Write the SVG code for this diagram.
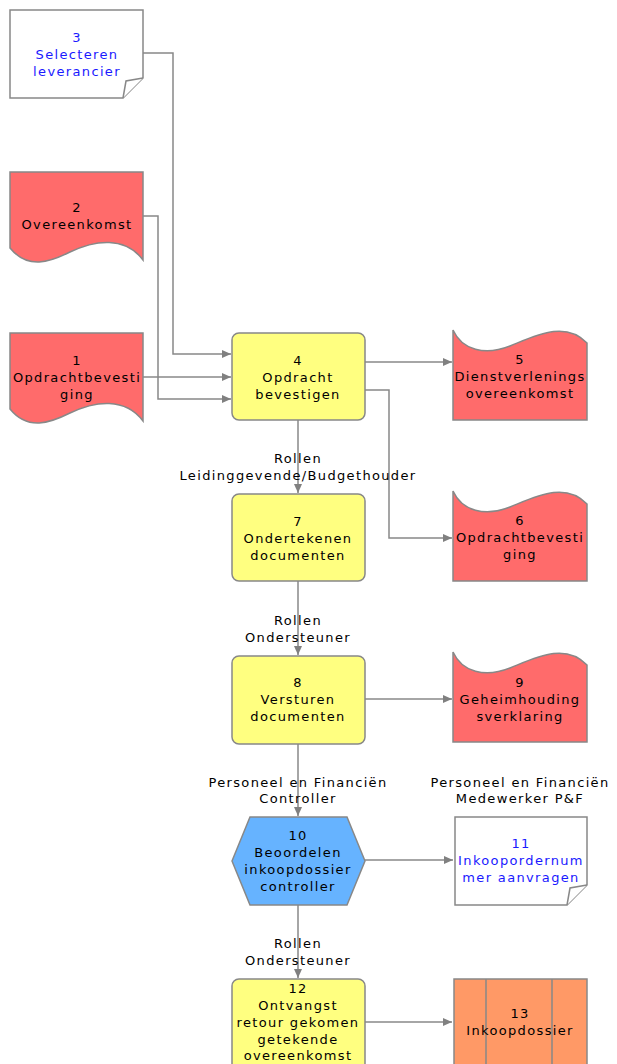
<svg xmlns="http://www.w3.org/2000/svg" width="617" height="1064" viewBox="0 0 617 1064">
<defs>
<style>
text{font-family:"DejaVu Sans","Liberation Sans",sans-serif;font-size:13px;letter-spacing:1.35px;text-anchor:middle;fill:#000}
.blue{fill:#1a1aff}
.shape{stroke:#888;stroke-width:1.5}
.red{fill:#ff6b6b}
.yel{fill:#ffff80}
.wht{fill:#fff}
.hex{fill:#66b3ff}
.org{fill:#ff9966}
.con{fill:none;stroke:#888;stroke-width:1.5}
</style>
<marker id="arr" markerUnits="userSpaceOnUse" markerWidth="10" markerHeight="10" refX="9" refY="5" orient="auto">
<path d="M0,1 L9,5 L0,9 Z" fill="#808080"/>
</marker>
</defs>
<rect width="617" height="1064" fill="#fff"/>

<g id="connectors">
<path class="con" d="M143,53 H173 V354 H231" marker-end="url(#arr)"/>
<path class="con" d="M143,216 H158 V399 H231" marker-end="url(#arr)"/>
<path class="con" d="M143,377 H231" marker-end="url(#arr)"/>
<path class="con" d="M365,362 H452" marker-end="url(#arr)"/>
<path class="con" d="M365,390 H389 V538 H452" marker-end="url(#arr)"/>
<path class="con" d="M298,420 V493" marker-end="url(#arr)"/>
<path class="con" d="M298,581 V655" marker-end="url(#arr)"/>
<path class="con" d="M365,699 H452" marker-end="url(#arr)"/>
<path class="con" d="M298,744 V816" marker-end="url(#arr)"/>
<path class="con" d="M365,860 H453" marker-end="url(#arr)"/>
<path class="con" d="M298,905 V978" marker-end="url(#arr)"/>
<path class="con" d="M365,1022 H452" marker-end="url(#arr)"/>
<text x="298" y="463">Rollen</text>
<text x="298" y="480">Leidinggevende/Budgethouder</text>
<text x="298" y="625">Rollen</text>
<text x="298" y="642">Ondersteuner</text>
<text x="298" y="787">Personeel en Financiën</text>
<text x="298" y="803">Controller</text>
<text x="298" y="948">Rollen</text>
<text x="298" y="965">Ondersteuner</text>
</g>

<g id="node3">
<path class="shape wht" d="M10,10 H143 V78 L123,98 H10 Z"/>
<path class="shape wht" d="M143,78 L126,81 L123,98"/>
<text class="blue" x="77" y="42">3</text>
<text class="blue" x="77" y="59">Selecteren</text>
<text class="blue" x="77" y="76">leverancier</text>
</g>

<g id="node2">
<path class="shape red" d="M10,172 H143 V260 C125,236 95,240 70,252 C50,262 28,270 10,248 Z"/>
<text x="77" y="212">2</text>
<text x="77" y="229">Overeenkomst</text>
</g>

<g id="node1">
<path class="shape red" d="M10,333 H143 V421 C125,397 95,401 70,413 C50,423 28,431 10,409 Z"/>
<text x="77" y="365">1</text>
<text x="77" y="382">Opdrachtbevesti</text>
<text x="77" y="399">ging</text>
</g>

<g id="node4">
<rect class="shape yel" x="232" y="333" width="133" height="87" rx="7"/>
<text x="298" y="365">4</text>
<text x="298" y="382">Opdracht</text>
<text x="298" y="399">bevestigen</text>
</g>

<g id="node5">
<path class="shape red" d="M453,420 V330 C462,350 485,356 510,346 C535,336 565,320 587,343 V420 Z"/>
<text x="520" y="364">5</text>
<text x="520" y="381">Dienstverlenings</text>
<text x="520" y="398">overeenkomst</text>
</g>

<g id="node6">
<path class="shape red" d="M453,581 V491 C462,511 485,517 510,507 C535,497 565,481 587,504 V581 Z"/>
<text x="520" y="525">6</text>
<text x="520" y="542">Opdrachtbevesti</text>
<text x="520" y="559">ging</text>
</g>

<g id="node7">
<rect class="shape yel" x="232" y="494" width="133" height="87" rx="7"/>
<text x="298" y="526">7</text>
<text x="298" y="543">Ondertekenen</text>
<text x="298" y="560">documenten</text>
</g>

<g id="node8">
<rect class="shape yel" x="232" y="656" width="133" height="88" rx="7"/>
<text x="298" y="687">8</text>
<text x="298" y="704">Versturen</text>
<text x="298" y="721">documenten</text>
</g>

<g id="node9">
<path class="shape red" d="M453,742 V652 C462,672 485,678 510,668 C535,658 565,642 587,665 V742 Z"/>
<text x="520" y="687">9</text>
<text x="520" y="704">Geheimhouding</text>
<text x="520" y="721">sverklaring</text>
</g>

<g id="node10">
<path class="shape hex" d="M232,861 L250,817 H347 L365,861 L347,905 H250 Z"/>
<text x="298" y="840">10</text>
<text x="298" y="857">Beoordelen</text>
<text x="298" y="874">inkoopdossier</text>
<text x="298" y="891">controller</text>
</g>

<g id="node11">
<text x="520" y="787">Personeel en Financiën</text>
<text x="520" y="803">Medewerker P&amp;F</text>
<path class="shape wht" d="M455,817 H587 V885 L567,905 H455 Z"/>
<path class="shape wht" d="M587,885 L570,888 L567,905"/>
<text class="blue" x="521" y="848">11</text>
<text class="blue" x="521" y="865">Inkoopordernum</text>
<text class="blue" x="521" y="882">mer aanvragen</text>
</g>

<g id="node12">
<rect class="shape yel" x="232" y="979" width="133" height="100" rx="7"/>
<text x="298" y="993">12</text>
<text x="298" y="1010">Ontvangst</text>
<text x="298" y="1027">retour gekomen</text>
<text x="298" y="1044">getekende</text>
<text x="298" y="1060">overeenkomst</text>
</g>

<g id="node13">
<rect class="shape org" x="454" y="979" width="133" height="100"/>
<path class="con" d="M486,979 V1070 M552,979 V1070"/>
<text x="520" y="1018">13</text>
<text x="520" y="1035">Inkoopdossier</text>
</g>
</svg>
